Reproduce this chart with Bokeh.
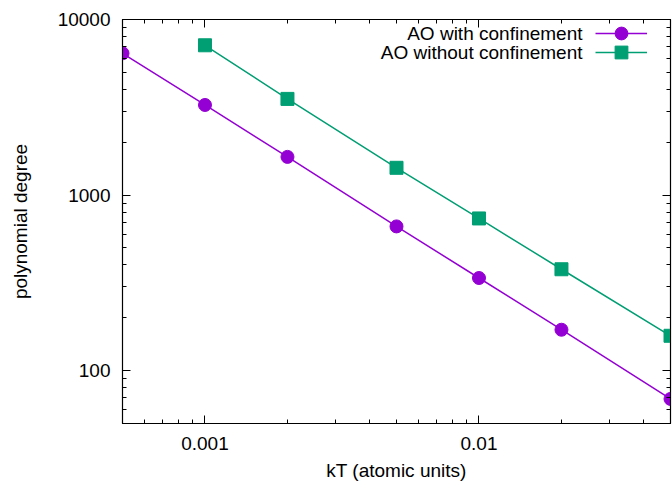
from bokeh.plotting import figure
from bokeh.models import LogAxis, FixedTicker, CustomJSTickFormatter, Range1d, Legend, LegendItem, Label
from bokeh.embed import file_html
from bokeh.resources import INLINE

kT_with = [0.0005, 0.001, 0.002, 0.005, 0.01, 0.02, 0.05]
deg_with = [6420, 3260, 1650, 663, 337, 171, 69]
kT_without = [0.001, 0.002, 0.005, 0.01, 0.02, 0.05]
deg_without = [7130, 3530, 1430, 736, 378, 158]
series_names = ["AO with confinement", "AO without confinement"]

x_major = [0.001, 0.01]
x_minor = [0.0005, 0.0006, 0.0007, 0.0008, 0.0009,
           0.002, 0.003, 0.004, 0.005, 0.006, 0.007, 0.008, 0.009,
           0.02, 0.03, 0.04, 0.05]
y_major = [100, 1000, 10000]
y_minor = [50, 60, 70, 80, 90, 200, 300, 400, 500, 600, 700, 800, 900,
           2000, 3000, 4000, 5000, 6000, 7000, 8000, 9000]

PURPLE = "#9400d3"
GREEN = "#009e73"
FONT = "Liberation Sans"
FS = "19px"

p = figure(width=672, height=483, x_axis_type="log", y_axis_type="log",
           x_range=Range1d(0.0005, 0.05), y_range=Range1d(50, 10000),
           output_backend="svg", toolbar_location=None,
           min_border_left=122, min_border_right=2, min_border_top=19, min_border_bottom=58)
p.grid.visible = False
p.outline_line_color = "black"
p.outline_line_width = 1.2
p.background_fill_color = "white"
p.border_fill_color = "white"

fmt = CustomJSTickFormatter(code="return String(Number(tick.toPrecision(1)));")
blank = CustomJSTickFormatter(code="return '';")

def style(ax, major, minor, labels=True):
    ax.ticker = FixedTicker(ticks=major, minor_ticks=minor)
    ax.major_tick_in = 8
    ax.major_tick_out = 0
    ax.minor_tick_in = 4
    ax.minor_tick_out = 0
    ax.axis_line_color = "black"
    ax.major_tick_line_color = "black"
    ax.minor_tick_line_color = "black"
    if labels:
        ax.formatter = fmt
        ax.major_label_text_font = FONT
        ax.major_label_text_font_size = FS
        ax.major_label_text_color = "black"
        ax.major_label_text_line_height = 1.0
        ax.axis_label_text_font = FONT
        ax.axis_label_text_font_size = FS
        ax.axis_label_text_font_style = "normal"
        ax.axis_label_text_color = "black"
        ax.axis_label_text_line_height = 1.0
    else:
        ax.formatter = blank
        ax.major_label_standoff = 0

style(p.xaxis[0], x_major, x_minor)
style(p.yaxis[0], y_major, y_minor)
p.xaxis[0].axis_label = "kT (atomic units)"
p.yaxis[0].axis_label = "polynomial degree"
p.xaxis[0].major_label_standoff = 13
p.xaxis[0].axis_label_standoff = 7
p.yaxis[0].major_label_standoff = 12
p.yaxis[0].axis_label_standoff = 24

top = LogAxis()
style(top, x_major, x_minor, labels=False)
p.add_layout(top, "above")
right = LogAxis()
style(right, y_major, y_minor, labels=False)
p.add_layout(right, "right")

l1 = p.line(kT_with, deg_with, line_color=PURPLE, line_width=1.5)
s1 = p.scatter(kT_with, deg_with, marker="circle", size=13, fill_color=PURPLE, line_color=PURPLE)
l2 = p.line(kT_without, deg_without, line_color=GREEN, line_width=1.5)
s2 = p.scatter(kT_without, deg_without, marker="square", size=13, fill_color=GREEN, line_color=GREEN)

# key: glyph samples via legends, right-aligned texts via labels (screen units from frame bottom-left)
for rends, vy in (([l1, s1], 374), ([l2, s2], 355)):
    lg = Legend(items=[LegendItem(label="", renderers=rends)], location=(473, vy),
                border_line_color=None, background_fill_alpha=0,
                label_standoff=0, label_width=0,
                glyph_width=52, glyph_height=32, label_height=32,
                spacing=0, padding=0, margin=0)
    p.add_layout(lg, "center")

for name, vy in zip(series_names, (390, 371)):
    p.add_layout(Label(x=460, y=vy, x_units="screen", y_units="screen", text=name,
                       text_align="right", text_baseline="middle",
                       text_font=FONT, text_font_size=FS, text_color="black"))

open("out.html", "w").write(file_html(p, INLINE))
